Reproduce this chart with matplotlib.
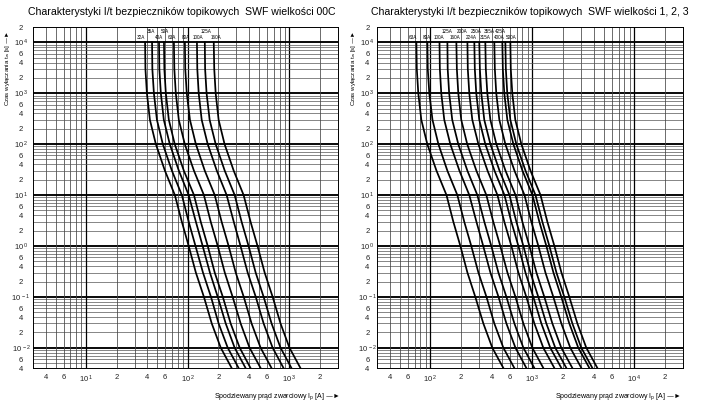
import matplotlib
matplotlib.use("Agg")
import matplotlib.pyplot as plt
from matplotlib import font_manager
from matplotlib.ticker import FixedLocator, FuncFormatter, NullLocator
import numpy as np

plt.rcParams["font.family"] = ["Liberation Sans", "DejaVu Sans"]
plt.rcParams["mathtext.default"] = "regular"

# waska odmiana, jesli jest zainstalowana (oryginal ma sciesniony krój)
_names = {f.name for f in font_manager.fontManager.ttflist}
NARROW = "Liberation Sans Narrow" in _names
small_family = ["Liberation Sans Narrow", "DejaVu Sans"] if NARROW else ["Liberation Sans", "DejaVu Sans"]

# czasy wylaczania [s] - wspolne punkty odczytu dla wszystkich krzywych
times = [1e4, 3e3, 1e3, 3e2, 1e2, 3e1, 1e1, 3, 1, 0.3, 0.1, 0.03, 0.01, 0.004]

# prad [A] dla kolejnych czasow
curves = {
    "32A": [38, 38.3, 39.6, 42.4, 48.5, 59.6, 74.6, 87.3, 102, 120, 144, 172, 211, 270],
    "35A": [44.5, 44.8, 46.4, 49.7, 56.8, 69.8, 87.4, 102, 119, 141, 169, 201, 247, 316],
    "40A": [52.1, 52.5, 54.3, 58.1, 66.5, 81.7, 102, 120, 140, 165, 197, 236, 289, 370],
    "50A": [58.3, 58.8, 60.8, 65.1, 74.4, 91.5, 115, 134, 157, 184, 221, 264, 324, 414],
    "63A": [73, 73.7, 76.2, 81.6, 93.4, 115, 144, 168, 197, 231, 276, 331, 405, 520],
    "80A": [93.6, 94.4, 97.7, 105, 120, 147, 184, 215, 252, 296, 355, 424, 520, 666],
    "100A": [123, 124, 128, 137, 157, 193, 241, 283, 330, 388, 466, 557, 683, 874],
    "125A": [147, 148, 153, 164, 188, 231, 289, 338, 396, 465, 557, 667, 817, 1046],
    "160A": [180, 182, 188, 201, 230, 283, 354, 414, 485, 570, 683, 817, 1000, 1282],
    "200A": [231, 233, 241, 258, 296, 364, 455, 531, 623, 730, 873, 1047, 1281, 1644],
    "224A": [270, 273, 282, 302, 346, 426, 533, 622, 730, 856, 1022, 1226, 1500, 1926],
    "250A": [302, 306, 316, 338, 388, 477, 597, 697, 817, 958, 1144, 1372, 1679, 2156],
    "315A": [346, 350, 362, 388, 444, 546, 684, 798, 936, 1097, 1311, 1572, 1923, 2469],
    "355A": [424, 429, 443, 475, 544, 669, 838, 977, 1146, 1344, 1606, 1925, 2356, 3025],
    "400A": [508, 514, 531, 569, 652, 801, 1003, 1171, 1373, 1610, 1923, 2306, 2822, 3623],
    "425A": [544, 550, 568, 609, 697, 858, 1074, 1253, 1469, 1723, 2058, 2469, 3020, 3878],
    "500A": [609, 615, 636, 681, 781, 960, 1203, 1403, 1645, 1929, 2305, 2764, 3382, 4343],
}

sizes_00c = ["32A", "35A", "40A", "50A", "63A", "80A", "100A", "125A", "160A"]
sizes_123 = ["63A", "80A", "100A", "125A", "160A", "200A", "224A", "250A",
             "315A", "355A", "400A", "425A", "500A"]
# etykiety w gornym rzedzie (przesuniete w gore, zeby sie nie nakladaly)
upper_00c = ["35A", "50A", "125A"]
upper_123 = ["125A", "200A", "250A", "355A", "425A"]

# przesuniecie etykiety wzgledem krzywej, w pikselach (uklad)
nudge_00c = {"32A": -4.5, "35A": -1.5, "40A": 0, "50A": 1, "63A": -1.5,
             "80A": 1.5, "100A": 1, "125A": 1.5, "160A": 2.5}
nudge_123 = {"63A": -3, "80A": -0.5, "100A": -0.5, "125A": 0, "160A": -1,
             "200A": -5.5, "224A": -3, "250A": -3.5, "315A": 0, "355A": -5.5,
             "400A": -3, "425A": -4.5, "500A": 0.5}

title_00c = "Charakterystyki I/t bezpieczników topikowych  SWF wielkości 00C"
title_123 = "Charakterystyki I/t bezpieczników topikowych  SWF wielkości 1, 2, 3"
ylabel = "Czas wyłączania t$_w$ [s] —►"
xlabel = "Spodziewany prąd zwarciowy I$_p$ [A] —►"

T_MIN, T_MAX = 4e-3, 2e4
XLIM_00C = (3, 3000)
XLIM_123 = (30, 30000)
PX_PER_DECADE = 102.0


def tick_label(v, pos):
    exp = int(np.floor(np.log10(v) + 1e-9))
    mant = int(round(v / 10.0 ** exp))
    if mant == 1:
        return rf"$10^{{\,{exp}}}$"
    return str(mant)


def draw_panel(ax, sizes, upper, nudge, xlim, ypad):
    ax.set_xscale("log")
    ax.set_yscale("log")
    ax.set_xlim(*xlim)
    ax.set_ylim(T_MIN, T_MAX)

    # siatka logarytmiczna: dekady grubsze
    for d in range(-3, 6):
        for m in range(1, 10):
            v = m * 10.0 ** d
            if xlim[0] < v < xlim[1]:
                ax.axvline(v, color="black" if m == 1 else "#444444",
                           lw=0.9 if m == 1 else 0.55, zorder=1)
            if T_MIN < v < T_MAX:
                ax.axhline(v, color="black" if m == 1 else "#555555",
                           lw=1.35 if m == 1 else 0.5, zorder=1)

    for name in sizes:
        ax.plot(curves[name], times, color="black", lw=1.25, zorder=3,
                solid_joinstyle="round")
        y = 1.62e4 if name in upper else 1.22e4
        x = curves[name][0] * 10 ** (nudge[name] / PX_PER_DECADE)
        ax.text(x, y, name, fontsize=4.0 if NARROW else 3.3, family=small_family,
                ha="center", va="center", zorder=4)

    xt = [m * 10.0 ** d for d in range(-3, 6) for m in (1, 2, 4, 6)
          if xlim[0] <= m * 10.0 ** d <= xlim[1]]
    yt = [m * 10.0 ** d for d in range(-3, 6) for m in (1, 2, 4, 6)
          if T_MIN * 0.999 <= m * 10.0 ** d <= T_MAX * 1.001]
    ax.xaxis.set_major_locator(FixedLocator(xt))
    ax.yaxis.set_major_locator(FixedLocator(yt))
    ax.xaxis.set_minor_locator(NullLocator())
    ax.yaxis.set_minor_locator(NullLocator())
    ax.xaxis.set_major_formatter(FuncFormatter(tick_label))
    ax.yaxis.set_major_formatter(FuncFormatter(tick_label))
    ax.tick_params(axis="both", length=0, labelsize=5.5, colors="#222222")
    ax.tick_params(axis="x", pad=4)
    ax.tick_params(axis="y", pad=ypad)
    for lbl in ax.get_yticklabels():
        lbl.set_horizontalalignment("center")
    for sp in ax.spines.values():
        sp.set_linewidth(0.7)


fig = plt.figure(figsize=(7.2, 4.08), dpi=100)
ax1 = fig.add_axes([0.0458, 0.098, 0.4236, 0.8358])
ax2 = fig.add_axes([0.5236, 0.098, 0.425, 0.8358])

draw_panel(ax1, sizes_00c, upper_00c, nudge_00c, XLIM_00C, 8.5)
draw_panel(ax2, sizes_123, upper_123, nudge_123, XLIM_123, 7.0)

fig.text(182 / 720, 1 - 12 / 408, title_00c, fontsize=7.6, ha="center", va="center")
fig.text(530 / 720, 1 - 12 / 408, title_123, fontsize=7.6, ha="center", va="center")

ysize = 5.3 if NARROW else 4.4
fig.text(8 / 720, 1 - 31 / 408, ylabel, fontsize=ysize, family=small_family,
         rotation=90, ha="center", va="top")
fig.text(354 / 720, 1 - 31 / 408, ylabel, fontsize=ysize, family=small_family,
         rotation=90, ha="center", va="top")

xsize = 6.0 if NARROW else 5.0
fig.text(340 / 720, 1 - 397 / 408, xlabel, fontsize=xsize, family=small_family,
         ha="right", va="center")
fig.text(681 / 720, 1 - 397 / 408, xlabel, fontsize=xsize, family=small_family,
         ha="right", va="center")

fig.savefig("out.png", dpi=100)
